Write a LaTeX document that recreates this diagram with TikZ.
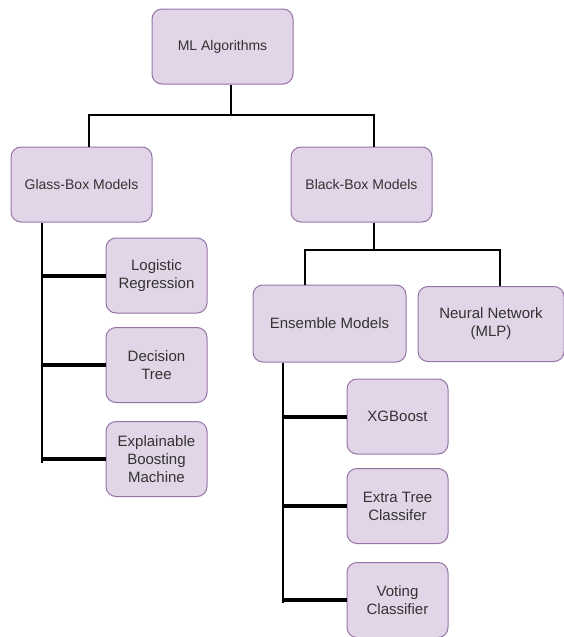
\documentclass[tikz,border=0pt]{standalone}
\usepackage{fontspec}
\setmainfont{Liberation Sans}
\usetikzlibrary{positioning,calc}
\definecolor{mlfill}{HTML}{E1D5E7}
\definecolor{mledge}{HTML}{9673A6}
\definecolor{mlink}{HTML}{333333}
\tikzset{
  box/.style={draw=mledge, fill=mlfill, rounded corners=10pt, align=center, text=mlink, line width=1pt, inner sep=2pt, font=\fontsize{15}{18}\selectfont},
  topbox/.style={box, font=\fontsize{14}{16}\selectfont, minimum width=141pt, minimum height=75pt},
  leaf/.style={box, minimum width=101pt, minimum height=75pt},
  link/.style={draw=black, line width=2.5pt},
  branch/.style={draw=black, line width=4pt},
}

\begin{document}
\begin{tikzpicture}[x=1pt,y=-1pt]
  \useasboundingbox (0,0) rectangle (563,637);
  % boxes
  \node[topbox] (root) at (222.5,46.5) {ML Algorithms};
  \node[topbox] (glass) at (81.5,184.5) {Glass-Box Models};
  \node[topbox] (black) at (361.5,184.5) {Black-Box Models};
  \node[leaf] (logreg) at (156.5,275.5) {Logistic\\Regression};
  \node[leaf] (dtree) at (156.5,365) {Decision\\Tree};
  \node[leaf] (ebm) at (156.5,459) {Explainable\\Boosting\\Machine};
  \node[box, minimum width=153pt, minimum height=77pt] (ensemble) at (329.5,323.5) {Ensemble Models};
  \node[box, minimum width=146pt, minimum height=75pt] (mlp) at (491,324) {Neural Network\\(MLP)};
  \node[leaf] (xgb) at (397.5,416.5) {XGBoost};
  \node[leaf] (extra) at (397.5,506) {Extra Tree\\Classifer};
  \node[leaf] (voting) at (397.5,600) {Voting\\Classifier};
  % joints
  \coordinate (topjoin) at (231,115);
  \coordinate (gdrop) at (89,115);
  \coordinate (bdrop) at (374,115);
  \coordinate (bjoin) at (374,250);
  \coordinate (edrop) at (305,250);
  \coordinate (ndrop) at (500,250);
  \coordinate (gtrunk) at (42,463);
  \coordinate (etrunk) at (283,603);
  % top level
  \draw[link] (root.south -| topjoin) -- (topjoin);
  \draw[link] (glass.north -| gdrop) -- (gdrop) -- (bdrop) -- (black.north -| bdrop);
  % black-box split
  \draw[link] (black.south -| bjoin) -- (bjoin);
  \draw[link] (ensemble.north -| edrop) -- (edrop) -- (ndrop) -- (mlp.north -| ndrop);
  % glass-box list
  \draw[link] (glass.south -| gtrunk) -- (gtrunk);
  \foreach \leafname in {logreg,dtree,ebm}
    \draw[branch] (\leafname.west -| gtrunk) -- (\leafname.west);
  % ensemble list
  \draw[link] (ensemble.south -| etrunk) -- (etrunk);
  \foreach \leafname in {xgb,extra,voting}
    \draw[branch] (\leafname.west -| etrunk) -- (\leafname.west);
\end{tikzpicture}
\end{document}
